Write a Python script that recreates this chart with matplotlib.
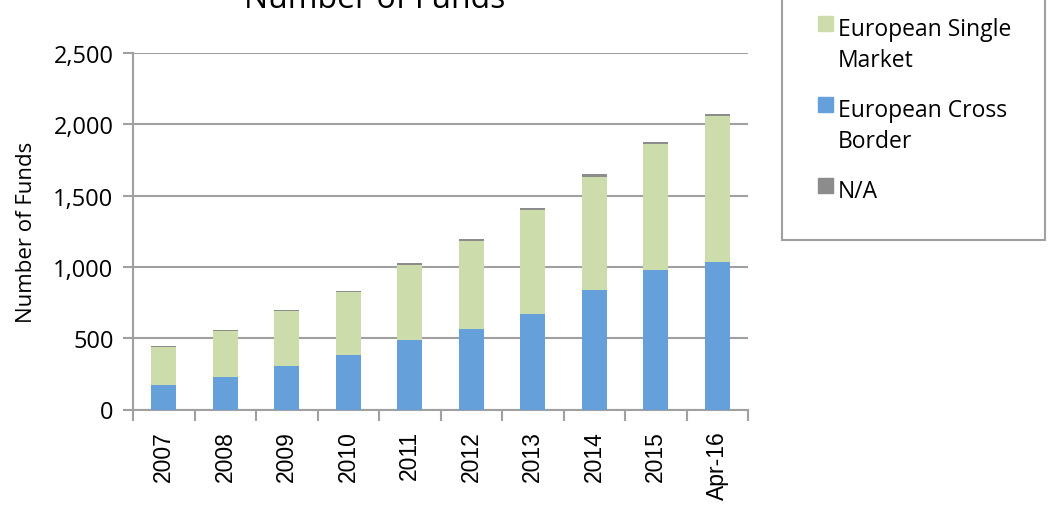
import numpy as np
import matplotlib
matplotlib.use("Agg")
import matplotlib.pyplot as plt
from matplotlib.patches import Rectangle
from matplotlib.ticker import FuncFormatter, FixedLocator

years = ["2007", "2008", "2009", "2010", "2011", "2012", "2013", "2014", "2015", "Apr-16"]
cross_border = [171, 230, 307, 385, 485, 563, 673, 835, 976, 1037]
single_market = [265, 321, 387, 438, 528, 619, 725, 795, 888, 1024]
not_available = [7, 7, 7, 10, 12, 12, 18, 21, 12, 14]

GREEN = "#cddcab"
BLUE = "#65a0db"
GRAY = "#8c8c8c"
AXIS = "#a0a0a0"
W, H = 1050, 506

fig = plt.figure(figsize=(W / 100, H / 100), dpi=100)
ax = fig.add_axes([133 / W, 1 - 410.5 / H, 615 / W, 356.5 / H])

x = np.arange(len(years))
w = 0.41
cb = np.array(cross_border)
sm = np.array(single_market)
ax.bar(x, cb, w, color=BLUE, zorder=3)
ax.bar(x, sm, w, bottom=cb, color=GREEN, zorder=3)
ax.bar(x, not_available, w, bottom=cb + sm, color=GRAY, zorder=3)

ax.set_xlim(-0.5, len(years) - 0.5)
ax.set_ylim(0, 2500)
ax.set_yticks(range(0, 2501, 500))
ax.yaxis.set_major_formatter(FuncFormatter(lambda v, _: f"{int(v):,}"))
ax.grid(axis="y", color=AXIS, linewidth=1.5, zorder=0)

ax.set_xticks(x)
ax.set_xticklabels(years, rotation=90, fontsize=16.5, family="Liberation Sans")
ax.xaxis.set_minor_locator(FixedLocator(np.arange(-0.5, len(years), 1.0)))
ax.tick_params(axis="x", which="major", length=0, pad=15)
ax.tick_params(axis="x", which="minor", length=8, width=1.5, color=AXIS)
ax.tick_params(axis="y", length=7, width=1.5, color=AXIS, labelsize=17, pad=7)
for lbl in ax.get_yticklabels():
    lbl.set_family("Open Sans")

for side in ("top", "right"):
    ax.spines[side].set_visible(False)
for side in ("left", "bottom"):
    ax.spines[side].set_color(AXIS)
    ax.spines[side].set_linewidth(1.5)

# axis title and chart title as figure text
fig.text(32 / W, 1 - 232 / H, "Number of Funds", fontsize=16, family="Open Sans",
         rotation=90, rotation_mode="anchor", ha="center", va="baseline")
fig.text(375 / W, 1 - 8 / H, "Number of Funds", fontsize=23,
         family="Open Sans", ha="center", va="baseline")

# legend box on the right, entries drawn by hand so the swatch sits on the first line
fig.patches.append(Rectangle((782 / W, 1 - 241 / H), 263 / W, 260 / H,
                             transform=fig.transFigure, facecolor="white",
                             edgecolor=AXIS, linewidth=1.5))
legend_items = [
    (GREEN, ["European Single", "Market"], 17),
    (BLUE, ["European Cross", "Border"], 98),
    (GRAY, ["N/A"], 179),
]
for color, lines, top in legend_items:
    fig.patches.append(Rectangle((818 / W, 1 - (top + 15) / H), 15 / W, 15 / H,
                                 transform=fig.transFigure, color=color))
    for i, line in enumerate(lines):
        fig.text(838 / W, 1 - (top + 19 + 31 * i) / H, line, fontsize=16.5,
                 family="Open Sans", ha="left", va="baseline")

fig.savefig("out.png", dpi=100)
